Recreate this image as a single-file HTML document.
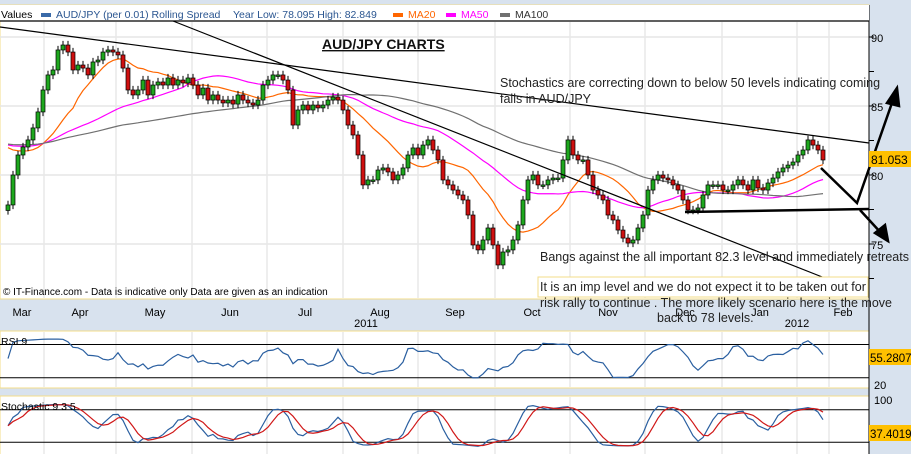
<!DOCTYPE html>
<html><head><meta charset="utf-8"><style>
body{margin:0;background:#d8e2ee;}
svg{display:block;font-family:"Liberation Sans",sans-serif;}
.ann{font-family:"Liberation Sans",sans-serif;font-size:12.5px;fill:#222;}
</style></head><body>
<svg id="chart" width="911" height="454" viewBox="0 0 911 454" xmlns="http://www.w3.org/2000/svg">
<rect x="0" y="0" width="911" height="454" fill="#d8e2ee"/>
<rect x="0" y="5" width="869" height="294" fill="#fff" stroke="#f3dc8a"/>
<rect x="0" y="331" width="869" height="57" fill="#fff" stroke="#f3dc8a"/>
<rect x="0" y="396" width="869" height="60" fill="#fff" stroke="#f3dc8a"/>
<g id="grid"></g>
<g id="marks"></g>
<g id="over"></g>
</svg>
<script>
const closes=[77.83,80.0,81.45,82.03,82.54,83.41,84.57,86.16,87.25,87.61,89.06,89.42,88.91,87.61,87.97,87.75,87.25,88.19,88.33,88.91,89.06,88.91,88.70,87.75,86.16,85.80,86.16,86.88,85.80,86.52,86.74,86.52,87.03,86.52,86.88,86.67,87.03,86.52,85.80,86.30,85.43,85.80,85.43,85.22,85.43,85.14,85.80,85.43,85.22,85.07,85.43,86.52,86.88,87.25,87.25,86.88,86.16,83.62,84.71,85.07,84.71,85.07,84.86,85.07,85.43,85.65,85.43,84.71,83.62,82.90,81.45,79.28,79.64,79.64,80.36,80.51,80.22,79.64,80.0,80.51,81.45,81.96,81.45,82.17,82.54,81.81,81.09,79.64,79.28,78.91,78.55,78.19,77.10,74.93,74.57,75.29,76.16,74.93,73.48,74.42,74.57,75.29,76.38,78.19,79.64,80.0,79.28,79.28,79.64,79.78,79.78,81.09,82.54,81.45,81.09,81.09,80.0,78.91,78.55,78.19,77.10,76.74,76.01,75.43,75.07,75.29,76.16,77.10,78.91,79.64,80.0,79.78,79.64,79.28,78.91,78.19,77.46,77.46,77.61,78.55,79.28,79.28,79.28,78.91,78.91,79.28,79.64,79.28,78.91,79.64,79.06,78.91,79.42,79.78,80.22,80.51,80.72,80.94,81.45,81.81,82.54,82.17,81.81,81.09];
const priorLevel=[82.3];
const priceTicks=[75,80,85,90];
const months=["Mar","Apr","May","Jun","Jul","Aug","Sep","Oct","Nov","Dec","Jan","Feb"];
const monthX=[22,80,155,230,305,380,455,532,608,685,760,843];
const gridX=[44,116,192,267,343,418,495,570,645,722,797,829];
const rsiLevels=[30,70];
const stochLevels=[20,80];

const NS="http://www.w3.org/2000/svg";
function el(tag,attrs,parent,text){const e=document.createElementNS(NS,tag);for(const k in attrs)e.setAttribute(k,attrs[k]);if(text!==undefined)e.textContent=text;parent.appendChild(e);return e;}
const G=document.getElementById('grid'),M=document.getElementById('marks');
const xS=i=>8+i*(815/(closes.length-1));
const yP=v=>37+(90-v)*13.8;
const yR=v=>386-(v-20)*0.83;
const yK=v=>453-v*0.54;

priceTicks.forEach(t=>{const l=el('line',{x1:0,x2:869,y1:yP(t),y2:yP(t),stroke:'#e6e6e6','stroke-width':1.5},G);

});
gridX.forEach(x=>{[[22,298],[332,387],[397,454]].forEach(r=>{const l=el('line',{x1:x,x2:x,y1:r[0],y2:r[1],stroke:'#e8e8e8','stroke-width':1.5},G);

});});
el('line',{x1:869,x2:869,y1:5,y2:454,stroke:'#000'},G);
for(let v=72.5;v<=92.5;v+=2.5){const y=yP(v);if(y<8||y>298)continue;el('line',{x1:869,x2:874,y1:y,y2:y,stroke:'#000'},G);
if(v%5===0){const t=el('text',{x:871,y:y+5,'font-size':11,fill:'#000'},G,String(v));

}}
function ma(n){return closes.map((c,i)=>{let s=0;for(let j=i-n+1;j<=i;j++)s+=j<0?priorLevel[0]:closes[j];return s/n;});}
[[14,'#ff6600','ma20-line'],[36,'#ff00ff','ma50-line'],[72,'#707070','ma100-line']].forEach(([n,c,name])=>{const m=ma(n);
const p=el('polyline',{points:m.map((v,i)=>xS(i)+','+yP(v)).join(' '),fill:'none',stroke:c,'stroke-width':1.2},M);

});
closes.forEach((c,i)=>{const o=i?closes[i-1]:c-0.4;const x=xS(i);const hi=Math.max(o,c)+0.3,lo=Math.min(o,c)-0.3;
const g=el('g',{},M);


el('line',{x1:x,x2:x,y1:yP(hi),y2:yP(lo),stroke:'#000'},g);
const top=yP(Math.max(o,c)),h=Math.max(1.5,Math.abs(yP(o)-yP(c)));
el('rect',{x:x-2,y:top,width:4,height:h,fill:c>=o?'#1ea81e':'#d01010',stroke:'#000','stroke-width':0.7},g);});
// RSI
const rsi=closes.map((c,i)=>{let up=0.3,dn=0.3;for(let j=Math.max(1,i-8);j<=i;j++){const d=closes[j]-closes[j-1];if(d>0)up+=d;else dn-=d;}return 100*up/(up+dn);});
rsiLevels.forEach(l=>el('line',{x1:0,x2:869,y1:yR(l),y2:yR(l),stroke:'#000'},G));
const rl=el('polyline',{points:rsi.map((v,i)=>xS(i)+','+yR(28+v*0.5)).join(' '),fill:'none',stroke:'#2a5fa0','stroke-width':1.2},M);


// Stochastic
const k=closes.map((c,i)=>{const s=closes.slice(Math.max(0,i-9),i+1);const hi=Math.max(...s)+0.4,lo=Math.min(...s)-0.4;return 100*(c-lo)/(hi-lo);});
const kS=k.map((v,i)=>{const s=k.slice(Math.max(0,i-2),i+1);return s.reduce((a,b)=>a+b)/s.length;});
const dS=kS.map((v,i)=>{const s=kS.slice(Math.max(0,i-3),i+1);return s.reduce((a,b)=>a+b)/s.length;});
stochLevels.forEach(l=>el('line',{x1:0,x2:869,y1:yK(l),y2:yK(l),stroke:'#000'},G));
const kl=el('polyline',{points:kS.map((v,i)=>xS(i)+','+yK(8+v*0.85)).join(' '),fill:'none',stroke:'#2a5fa0','stroke-width':1.2},M);


const dl=el('polyline',{points:dS.map((v,i)=>xS(i)+','+yK(8+v*0.85)).join(' '),fill:'none',stroke:'#d01818','stroke-width':1.2},M);


months.forEach((m,i)=>{const t=el('text',{x:monthX[i],y:316,'font-size':11,fill:'#000','text-anchor':'middle'},G,m);

});
</script>
<svg style="position:absolute;left:0;top:0" width="911" height="454" xmlns="http://www.w3.org/2000/svg">
<line x1="0" y1="299" x2="869" y2="299" stroke="#f3dc8a"/>
<text x="366" y="327" font-size="11" text-anchor="middle">2011</text>
<text x="797" y="327" font-size="11" text-anchor="middle">2012</text>
<rect x="0" y="5" width="869" height="16" fill="#fff"/>
<line x1="0" y1="21" x2="869" y2="21" stroke="#000" stroke-width="1.2"/>
<g font-size="10.5">
<text x="1" y="18" fill="#000">Values</text>
<rect x="41" y="13" width="10" height="4" fill="#3a6aa8"/>
<text x="56" y="18" fill="#2a5590">AUD/JPY (per 0.01) Rolling Spread</text>
<text x="233" y="18" fill="#2a5590">Year Low: 78.095 High: 82.849</text>
<rect x="393" y="13" width="10" height="4" fill="#ff6600"/>
<text x="408" y="18" fill="#ff6600">MA20</text>
<rect x="446" y="13" width="10" height="4" fill="#ff00ff"/>
<text x="461" y="18" fill="#ff00ff">MA50</text>
<rect x="500" y="13" width="10" height="4" fill="#707070"/>
<text x="515" y="18" fill="#333">MA100</text>
</g>
<line x1="0" y1="27" x2="869" y2="143" stroke="#000" stroke-width="1.2"/>
<line x1="173" y1="21" x2="840" y2="284" stroke="#000" stroke-width="1.2"/>
<line x1="685" y1="212" x2="869" y2="209" stroke="#000" stroke-width="2.5"/>
<g stroke="#000" stroke-width="2.5" fill="none">
<polyline points="821,168 857,203 893,100"/>
<polygon points="897,88 887,103 899,106" fill="#000"/>
<line x1="860" y1="210" x2="882" y2="234"/>
<polygon points="888,241 875,233 885,225" fill="#000"/>
</g>
<text x="322" y="49" font-size="14" font-weight="bold" text-decoration="underline" fill="#111">AUD/JPY CHARTS</text>
<text class="ann" x="500" y="87">Stochastics are correcting down to below 50 levels indicating coming</text>
<text class="ann" x="500" y="103">falls in AUD/JPY</text>
<text class="ann" x="540" y="261">Bangs against the all important 82.3 level and immediately retreats</text>
<rect x="538" y="277" width="330" height="20" fill="#fff" stroke="#f3dc8a"/>
<text class="ann" x="540" y="291">It is an imp level and we do not expect it to be taken out for</text>
<text class="ann" x="540" y="307">risk rally to continue . The more likely scenario here is the move</text>
<text class="ann" x="657" y="322">back to 78 levels.</text>
<text x="3" y="295" font-size="10" fill="#000">© IT-Finance.com - Data is indicative only Data are given as an indication</text>
<text x="1" y="345" font-size="10.5">RSI 9</text>
<text x="1" y="410" font-size="10.5">Stochastic 9 3 5</text>
<text x="874" y="389" font-size="11">20</text>
<text x="874" y="404" font-size="11">100</text>
<rect x="869" y="151" width="42" height="16" fill="#ffc000"/>
<text x="871" y="164" font-size="12">81.053</text>
<rect x="869" y="349" width="42" height="16" fill="#ffc000"/>
<text x="870" y="362" font-size="11.5">55.2807</text>
<rect x="869" y="425" width="42" height="16" fill="#ffc000"/>
<text x="870" y="438" font-size="11.5">37.4019</text>
</svg>
</body></html>
